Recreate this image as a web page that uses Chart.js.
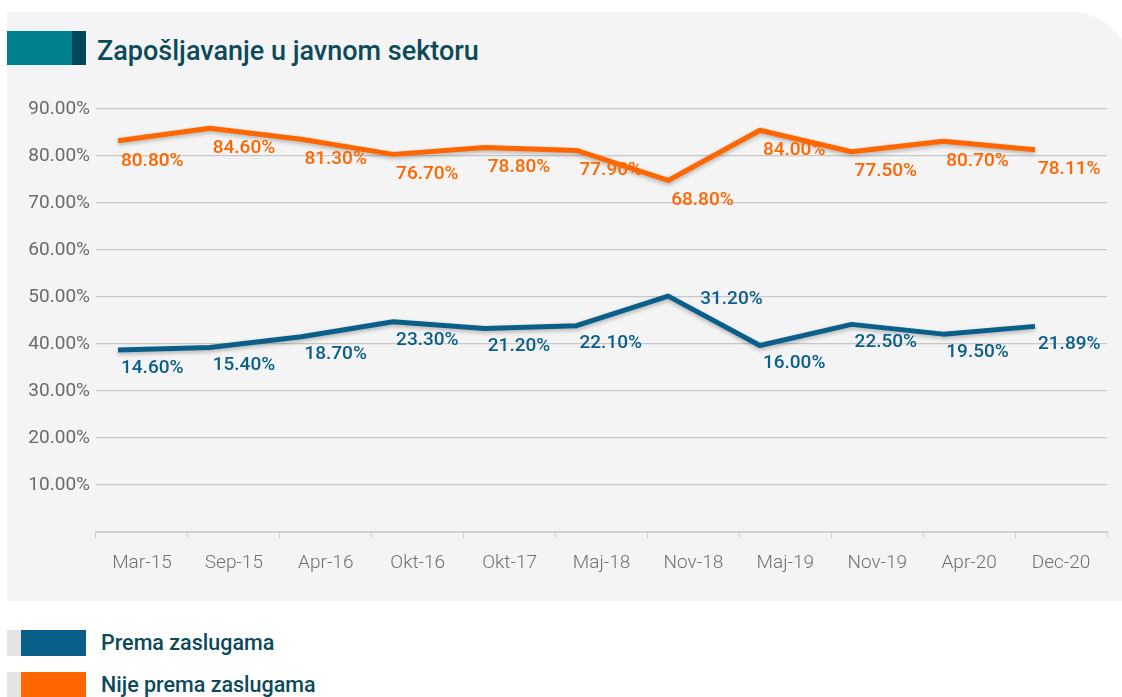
<!DOCTYPE html>
<html>
<head>
<meta charset="utf-8">
<script src="https://cdn.jsdelivr.net/npm/chart.js@4/dist/chart.umd.min.js"></script>
<style>
  html, body { margin: 0; padding: 0; background: #fff; }
  body { width: 1122px; height: 697px; overflow: hidden; position: relative; font-family: Roboto, "Noto Sans", sans-serif; }
  .panel { position: absolute; left: 7px; top: 12px; width: 1123px; height: 589px; background: #f4f4f4; border-top-right-radius: 58px; }
  .bar { position: absolute; top: 31px; height: 34px; }
  .title { position: absolute; left: 97px; top: 34px; height: 34px; line-height: 34px; font-size: 27px; font-weight: 500; color: #0c4a5a; white-space: nowrap; }
  #chart { position: absolute; left: 0; top: 0; }
  .lg-gray { position: absolute; left: 7px; width: 14px; height: 26px; background: #e4e4e4; }
  .lg-box { position: absolute; left: 21px; width: 65px; height: 26px; }
  .lg-text { position: absolute; left: 101px; height: 26px; line-height: 26px; font-size: 21.5px; font-weight: 500; color: #0c4a5a; white-space: nowrap; }
</style>
</head>
<body>
<div class="panel"></div>
<div class="bar" style="left:7px;width:65px;background:#007f8c"></div>
<div class="bar" style="left:72px;width:14px;background:#03485a"></div>
<div class="title">Zapošljavanje u javnom sektoru</div>
<canvas id="chart" width="1122" height="600"></canvas>

<div class="lg-gray" style="top:630px"></div>
<div class="lg-box" style="top:630px;background:#0a5e8a"></div>
<div class="lg-text" style="top:630px">Prema zaslugama</div>
<div class="lg-gray" style="top:672px"></div>
<div class="lg-box" style="top:672px;background:#ff6600"></div>
<div class="lg-text" style="top:672px">Nije prema zaslugama</div>

<script>
// data
const categories = ['Mar-15', 'Sep-15', 'Apr-16', 'Okt-16', 'Okt-17', 'Maj-18', 'Nov-18', 'Maj-19', 'Nov-19', 'Apr-20', 'Dec-20'];
const premaZaslugama = [14.6, 15.4, 18.7, 23.3, 21.2, 22.1, 31.2, 16.0, 22.5, 19.5, 21.89];
const nijePremaZaslugama = [80.8, 84.6, 81.3, 76.7, 78.8, 77.9, 68.8, 84.0, 77.5, 80.7, 78.11];
const yTicks = [10, 20, 30, 40, 50, 60, 70, 80, 90];

const BLUE = '#0a5e8a';
const ORANGE = '#ff6600';

// soft shadow under the lines
const lineShadow = {
  id: 'lineShadow',
  beforeDatasetDraw(chart) {
    const ctx = chart.ctx;
    ctx.save();
    ctx.shadowColor = 'rgba(0,0,0,0.28)';
    ctx.shadowBlur = 4;
    ctx.shadowOffsetY = 2;
  },
  afterDatasetDraw(chart) {
    chart.ctx.restore();
  },
};

// value labels next to each point
const valueLabels = {
  id: 'valueLabels',
  afterDatasetsDraw(chart) {
    const ctx = chart.ctx;
    ctx.save();
    ctx.font = '500 19px Roboto, "Noto Sans", sans-serif';
    ctx.textBaseline = 'middle';
    ctx.textAlign = 'left';
    chart.data.datasets.forEach((ds, di) => {
      const meta = chart.getDatasetMeta(di);
      ctx.fillStyle = ds.borderColor;
      meta.data.forEach((pt, i) => {
        const text = ds.data[i].y.toFixed(2) + '%';
        if (ds.labelRight && ds.labelRight.includes(i)) {
          ctx.fillText(text, pt.x + 32, pt.y + 3);
        } else {
          ctx.fillText(text, pt.x + 3, pt.y + ds.labelDy);
        }
      });
    });
    ctx.restore();
  },
};

new Chart(document.getElementById('chart'), {
  type: 'line',
  data: {
    labels: categories,
    datasets: [
      {
        label: 'Prema zaslugama',
        data: premaZaslugama.map((v, i) => ({ x: i, y: v })),
        xAxisID: 'xp',
        yAxisID: 'yb',
        borderColor: BLUE,
        borderWidth: 5,
        pointRadius: 0,
        tension: 0,
        borderJoinStyle: 'round',
        labelDy: 18,
        labelRight: [6],
      },
      {
        label: 'Nije prema zaslugama',
        data: nijePremaZaslugama.map((v, i) => ({ x: i, y: v })),
        xAxisID: 'xp',
        yAxisID: 'yo',
        borderColor: ORANGE,
        borderWidth: 5,
        pointRadius: 0,
        tension: 0,
        borderJoinStyle: 'round',
        labelDy: 20,
      },
    ],
  },
  options: {
    responsive: false,
    animation: false,
    layout: { padding: { top: 109, right: 15, left: 0, bottom: 0 } },
    plugins: {
      legend: { display: false },
      tooltip: { enabled: false },
    },
    scales: {
      x: {
        type: 'category',
        offset: true,
        afterFit(scale) { scale.height = 68; },
        border: { color: '#cfcfcf', width: 2 },
        grid: { drawOnChartArea: false, offset: true, tickLength: 6, color: '#cfcfcf' },
        ticks: {
          padding: 14,
          color: '#707070',
          font: { family: 'Roboto', size: 19, weight: '300' },
        },
      },
      xp: { type: 'linear', display: false, min: -0.24, max: 10.785 },
      y: {
        min: 0,
        max: 90,
        afterFit(scale) { scale.width = 96; },
        afterBuildTicks(scale) { scale.ticks = [0].concat(yTicks).map((v) => ({ value: v })); },
        border: { display: false },
        grid: { color: '#c8c8c8', lineWidth: 1.2, drawTicks: false },
        ticks: {
          padding: 6,
          color: '#6a6a6a',
          font: { family: 'Roboto', size: 19 },
          callback: (v) => (v === 0 ? '' : v.toFixed(2) + '%'),
        },
      },
      yb: { display: false, min: -41.38, max: 88.77 },
      yo: { display: false, min: -37.73, max: 90.45 },
    },
  },
  plugins: [lineShadow, valueLabels],
});
</script>
</body>
</html>
